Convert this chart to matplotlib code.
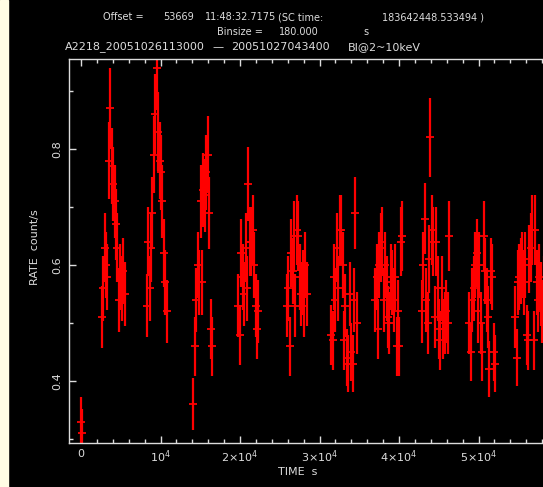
import numpy as np
import matplotlib
matplotlib.use("Agg")
import matplotlib.pyplot as plt
from matplotlib.patches import Rectangle
from matplotlib.ticker import MultipleLocator

# light curve, 180 s bins, one list of rates per visibility window
binsize = 180.0

start_times = [-50, 2600, 8260, 14130, 19790, 25880, 31450, 36990, 42860, 48850, 54600]

rates_0 = [0.33, 0.31]
rates_1 = [0.51, 0.56, 0.63, 0.60, 0.58, 0.78, 0.87, 0.77, 0.74, 0.71, 0.67,
           0.63, 0.54, 0.58, 0.56, 0.59, 0.55]
rates_2 = [0.53, 0.64, 0.56, 0.63, 0.69, 0.79, 0.86, 0.94, 0.83, 0.78, 0.76,
           0.71, 0.62, 0.57, 0.52]
rates_3 = [0.36, 0.46, 0.54, 0.60, 0.57, 0.71, 0.57, 0.73, 0.72, 0.76, 0.79,
           0.69, 0.49, 0.46]
rates_4 = [0.53, 0.48, 0.62, 0.58, 0.55, 0.63, 0.56, 0.74, 0.64, 0.64, 0.66,
           0.60, 0.53, 0.49, 0.52]
rates_5 = [0.53, 0.56, 0.46, 0.62, 0.59, 0.65, 0.53, 0.66, 0.65, 0.58, 0.55,
           0.57, 0.53, 0.60, 0.55]
rates_6 = [0.48, 0.47, 0.58, 0.54, 0.63, 0.56, 0.66, 0.66, 0.60, 0.47, 0.53,
           0.44, 0.43, 0.55, 0.45, 0.43, 0.54, 0.69, 0.50]
rates_7 = [0.54, 0.58, 0.49, 0.60, 0.63, 0.64, 0.54, 0.60, 0.56, 0.51, 0.50,
           0.58, 0.57, 0.54, 0.58, 0.46, 0.52, 0.46, 0.64, 0.65]
rates_8 = [0.52, 0.60, 0.68, 0.54, 0.50, 0.61, 0.82, 0.66, 0.64, 0.51, 0.64,
           0.56, 0.49, 0.47, 0.56, 0.49, 0.50, 0.52, 0.50, 0.65]
rates_9 = [0.50, 0.45, 0.54, 0.56, 0.60, 0.62, 0.52, 0.60, 0.50, 0.45, 0.65,
           0.59, 0.54, 0.51, 0.42, 0.59, 0.58, 0.45, 0.43]
rates_10 = [0.51, 0.44, 0.57, 0.58, 0.59, 0.60, 0.57, 0.60, 0.48, 0.47, 0.61,
            0.63, 0.66, 0.47, 0.66, 0.57, 0.54, 0.58, 0.55, 0.52, 0.56, 0.53]

windows = [rates_0, rates_1, rates_2, rates_3, rates_4, rates_5,
           rates_6, rates_7, rates_8, rates_9, rates_10]

time = []
rate = []
for t0, r in zip(start_times, windows):
    time.extend(t0 + binsize * np.arange(len(r)))
    rate.extend(r)
time = np.array(time)
rate = np.array(rate)
# poisson errors from counts per bin
err = np.sqrt(rate * binsize) / binsize

xticks = [0, 1e4, 2e4, 3e4, 4e4, 5e4]
xticklabels = ["0", r"$10^4$", r"$2{\times}10^4$", r"$3{\times}10^4$",
               r"$4{\times}10^4$", r"$5{\times}10^4$"]
yticks = [0.4, 0.6, 0.8]
yticklabels = ["0.4", "0.6", "0.8"]

W, H = 543, 487
fg = "#dcdcdc"
fs = 8

fig = plt.figure(figsize=(W / 100, H / 100), dpi=100, facecolor="black")
fig.patches.append(Rectangle((0, 0), 8 / W, 1, transform=fig.transFigure,
                             color="#fffde4", zorder=0))

ax = fig.add_axes([69 / W, 44 / H, 505 / W, 384 / H])
ax.set_facecolor("black")

ax.errorbar(time, rate, xerr=binsize / 2, yerr=err, fmt="none",
            ecolor="red", elinewidth=1.6)
ax.plot(time, rate, ls="none", marker="_", ms=5.5, mew=1.3, color="red")

ax.set_xlim(-1510, 62000)
ax.set_ylim(0.2931, 0.9552)

ax.set_xticks(xticks)
ax.set_xticklabels(xticklabels)
ax.xaxis.set_minor_locator(MultipleLocator(2000))
ax.set_yticks(yticks)
ax.set_yticklabels(yticklabels, rotation=90, va="center")
ax.yaxis.set_minor_locator(MultipleLocator(0.1))

for sp in ax.spines.values():
    sp.set_color(fg)
    sp.set_linewidth(1.0)
ax.tick_params(which="both", direction="in", top=True, right=True,
               colors=fg, labelsize=fs)
ax.tick_params(which="major", length=5, width=1.0)
ax.tick_params(which="minor", length=3, width=1.0)
ax.tick_params(axis="x", pad=4)
ax.tick_params(axis="y", pad=5)

fig.text(35 / W, 1 - 247 / H, "RATE  count/s", rotation=90, color=fg,
         fontsize=fs, ha="center", va="center")
fig.text(298 / W, 1 - 472 / H, "TIME  s", color=fg, fontsize=fs,
         ha="center", va="center")

# header lines, placed piece by piece like the fixed-width original
header = [
    (103, 17, 7, "Offset ="), (163, 17, 7, "53669"), (205, 17, 7, "11:48:32.7175"),
    (278, 17, 7, "(SC time:"), (382, 17, 7, "183642448.533494 )"),
    (217, 32, 7, "Binsize ="), (279, 32, 7, "180.000"), (363, 32, 7, "s"),
    (65, 47, 8, "A2218_20051026113000"), (212, 47, 8, "\u2014"),
    (231, 47, 8, "20051027043400"), (348, 47, 8, "BI@2~10keV"),
]
for x, y, size, s in header:
    fig.text(x / W, 1 - y / H, s, color=fg, fontsize=size, ha="left", va="center")

fig.savefig("out.png", dpi=100, facecolor=fig.get_facecolor())
